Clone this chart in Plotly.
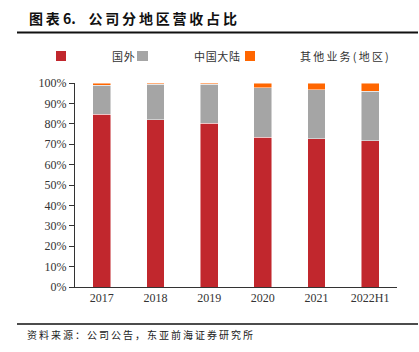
import plotly.graph_objects as go

categories = ["2017", "2018", "2019", "2020", "2021", "2022H1"]
overseas = [84.7, 82.1, 80.2, 73.5, 72.6, 71.7]
mainland = [14.3, 17.4, 19.3, 24.2, 24.2, 24.2]
other = [1.0, 0.5, 0.5, 2.3, 3.2, 4.1]
series_names = ["国外", "中国大陆", "其他业务(地区)"]
colors = ["#C1272D", "#A5A5A5", "#FF6600"]
y_ticks = list(range(0, 101, 10))

W, H = 419, 352
L, R, T, B = 75, 22, 83, 65
pw, ph = W - L - R, H - T - B

def px(x):
    return (x - L) / pw

def py(y):
    return (H - B - y) / ph

def spaced(s, sep="\u2009"):
    return sep.join(list(s))

fig = go.Figure()
for name, vals, c in zip(series_names, [overseas, mainland, other], colors):
    fig.add_trace(go.Bar(x=categories, y=vals, name=name, marker_color=c,
                         marker_line=dict(color="rgba(255,255,255,0.6)", width=0.8),
                         showlegend=False))

serif = "Liberation Serif, Times New Roman, serif"
cjk = "Noto Sans CJK SC"

fig.update_layout(
    width=W, height=H, barmode="stack", bargap=0.665,
    margin=dict(l=L, r=R, t=T, b=B),
    paper_bgcolor="white", plot_bgcolor="white",
    xaxis=dict(showline=True, linecolor="#333333", linewidth=1, ticks="",
               tickfont=dict(family=serif, size=12, color="#333333")),
    yaxis=dict(range=[0, 100], tickvals=y_ticks, ticktext=[f"{v}%" for v in y_ticks],
               showgrid=False, showline=True, linecolor="#333333", linewidth=1,
               ticks="outside", ticklen=5, tickcolor="#333333",
               tickfont=dict(family=serif, size=12, color="#333333")),
)

shapes = []
annotations = []
# title and underline
annotations.append(dict(text="<b>" + spaced("图表") + "\u00a06.\u00a0\u00a0\u00a0\u00a0" + spaced("公司分地区营收占比") + "</b>",
                        x=px(27), y=py(18), xref="paper", yref="paper",
                        xanchor="left", yanchor="middle", showarrow=False,
                        font=dict(family=cjk, size=14, color="#111111")))
shapes.append(dict(type="line", xref="paper", yref="paper", x0=px(17), x1=px(418), y0=py(32.5), y1=py(32.5),
                   line=dict(color="#111111", width=2)))
# footer
shapes.append(dict(type="line", xref="paper", yref="paper", x0=px(17), x1=px(418), y0=py(324), y1=py(324),
                   line=dict(color="#111111", width=1.5)))
annotations.append(dict(text=spaced("资料来源：公司公告，东亚前海证券研究所"), x=px(25), y=py(334),
                        xref="paper", yref="paper",
                        xanchor="left", yanchor="middle", showarrow=False,
                        font=dict(family=cjk, size=10, color="#222222")))
# legend
sq = [(56, 66), (137, 148), (245, 255)]
lab = [110, 192, 298]
seps = ["\u200a", "\u200a", "\u2009"]
for (a, b), lx, name, c, sp in zip(sq, lab, series_names, colors, seps):
    shapes.append(dict(type="rect", xref="paper", yref="paper", x0=px(a), x1=px(b), y0=py(51), y1=py(61),
                       fillcolor=c, line=dict(width=0)))
    annotations.append(dict(text=spaced(name, sp), x=px(lx), y=py(56), xref="paper", yref="paper",
                            xanchor="left", yanchor="middle", showarrow=False,
                            font=dict(family=cjk, size=11, color="#333333")))
fig.update_layout(shapes=shapes, annotations=annotations)
fig.write_html("out.html")
